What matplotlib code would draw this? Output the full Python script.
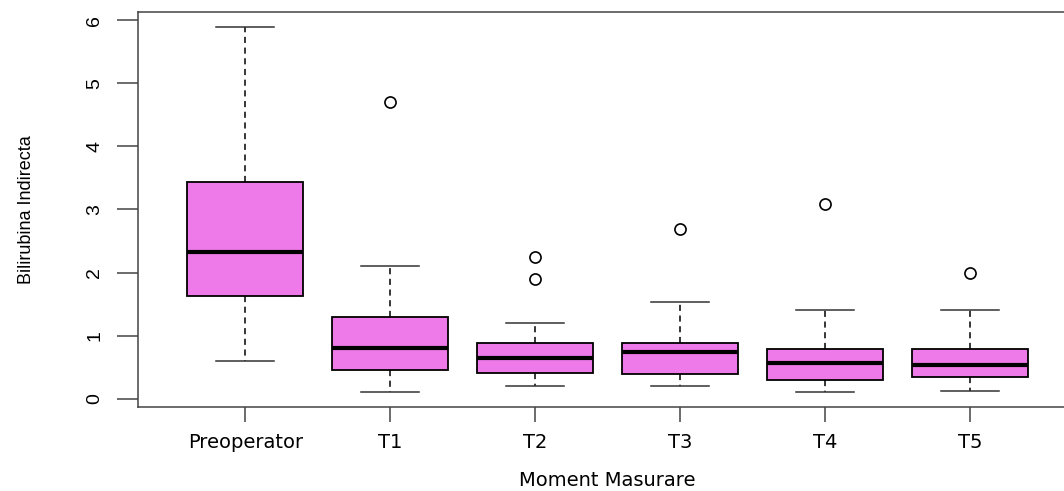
import matplotlib
matplotlib.use("Agg")
import matplotlib.pyplot as plt

plt.rcParams['font.family'] = ['Liberation Sans', 'DejaVu Sans']

# valori (Bilirubina Indirecta)
categories = ['Preoperator', 'T1', 'T2', 'T3', 'T4', 'T5']
whisker_low = [0.60, 0.10, 0.20, 0.20, 0.10, 0.12]
q1 = [1.63, 0.45, 0.41, 0.39, 0.30, 0.34]
median = [2.32, 0.80, 0.65, 0.74, 0.57, 0.53]
q3 = [3.44, 1.30, 0.89, 0.89, 0.79, 0.78]
whisker_high = [5.89, 2.11, 1.20, 1.54, 1.40, 1.40]
outliers = [[], [4.70], [2.25, 1.89], [2.69], [3.09], [1.99]]

stats = []
for i, name in enumerate(categories):
    stats.append({
        'label': name,
        'whislo': whisker_low[i],
        'q1': q1[i],
        'med': median[i],
        'q3': q3[i],
        'whishi': whisker_high[i],
        'fliers': outliers[i],
    })

fig = plt.figure(figsize=(10.64, 4.91), dpi=100)
ax = fig.add_axes([138 / 1064, 1 - 407 / 491, 939 / 1064, 395 / 491])

ax.bxp(stats, positions=range(1, 7), widths=0.8, patch_artist=True,
       boxprops=dict(facecolor='#EE7AE9', edgecolor='black', linewidth=1.3),
       medianprops=dict(color='black', linewidth=3.0),
       whiskerprops=dict(color='black', linestyle=(0, (4, 3)), linewidth=1.1),
       capprops=dict(color='#333333', linewidth=1.1),
       capwidths=0.4,
       flierprops=dict(marker='o', markerfacecolor='none', markeredgecolor='black',
                       markersize=8, markeredgewidth=1.2))

ax.set_xlim(0.26, 6.74)
ax.set_ylim(-0.132, 6.132)
ax.set_yticks(range(0, 7))
ax.set_xticks(range(1, 7))
ax.set_xticklabels(categories, family=['DejaVu Sans'], fontsize=14)

for s in ax.spines.values():
    s.set_color('#444444')
    s.set_linewidth(1.1)

ax.tick_params(axis='x', length=11, width=1.1, color='#444444', pad=8)
ax.tick_params(axis='y', length=15, width=1.1, color='#444444', labelsize=14, pad=10)
for lab in ax.get_yticklabels():
    lab.set_rotation(90)
    lab.set_va('center')

ax.set_xlabel('Moment Masurare', fontsize=14, family=['DejaVu Sans'])
ax.xaxis.set_label_coords(0.5, -0.163)
ax.set_ylabel('Bilirubina Indirecta', fontsize=13)
ax.yaxis.set_label_coords(-0.11, 0.5)

fig.savefig('out.png', dpi=100)
